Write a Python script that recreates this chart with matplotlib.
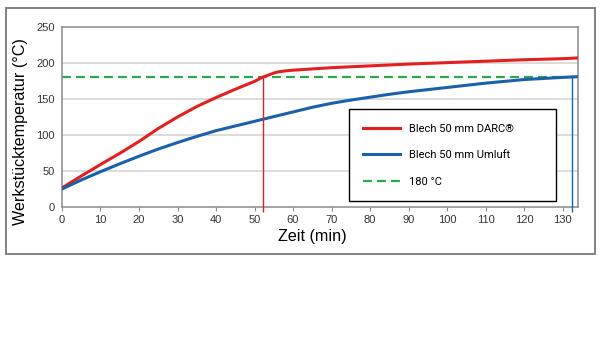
import matplotlib
matplotlib.use("Agg")
import matplotlib.pyplot as plt
from matplotlib.patches import Rectangle

# curve readings (minutes, °C)
t_darc = [0, 5, 10, 15, 20, 25, 30, 35, 40, 45, 50, 52, 54, 55, 56, 58, 60,
          70, 80, 90, 100, 110, 120, 130, 134]
temp_darc = [26.5, 43, 59, 74.5, 91, 109, 125, 139.5, 152, 163.5, 174.5, 180,
             184, 186, 187.5, 189, 190, 193.5, 196, 198.5, 200.5, 202.5,
             204.5, 206, 207]

t_umluft = [0, 5, 10, 15, 20, 25, 30, 35, 40, 45, 50, 55, 60, 65, 70, 75, 80,
            85, 90, 100, 110, 120, 130, 134]
temp_umluft = [25, 37.5, 49, 60, 70.5, 80.5, 89.5, 98, 106, 112.5, 119, 125.5,
               132, 138.5, 144, 148.5, 152.5, 156.5, 160, 166, 172, 177, 180,
               181]

target_temp = 180
t_reach_darc = 52.2
t_reach_umluft = 132.4

labels = ["Blech 50 mm DARC®", "Blech 50 mm Umluft", "180 °C"]
x_ticks = list(range(0, 131, 10))
y_ticks = [0, 50, 100, 150, 200, 250]

red = "#e3201f"
blue = "#1a60aa"
green = "#2aa84a"
gray = "#8a8a8a"

fig = plt.figure(figsize=(6, 3.37), dpi=100)
ax = fig.add_axes([0.1033, 0.3858, 0.86, 0.5341])

# outer frame
fig.patches.append(Rectangle((6 / 600, 1 - 254 / 337), 589 / 600, 246 / 337,
                             transform=fig.transFigure, fill=False,
                             edgecolor="#777777", linewidth=1.3))

for y in y_ticks[1:-1]:
    ax.axhline(y, color="#d2d2d2", lw=1.1, zorder=0)

ax.plot([0, 134], [target_temp, target_temp], color=green, lw=1.6,
        dashes=(4, 2.3), zorder=2, label=labels[2])
ax.plot(t_darc, temp_darc, color=red, lw=2.2, zorder=3, label=labels[0])
ax.plot(t_umluft, temp_umluft, color=blue, lw=2.2, zorder=3, label=labels[1])

ax.vlines(t_reach_darc, -7, target_temp, color=red, lw=1.0, clip_on=False, zorder=4)
ax.vlines(t_reach_umluft, -7, target_temp, color=blue, lw=1.0, clip_on=False, zorder=4)

ax.set_xlim(0, 134)
ax.set_ylim(0, 250)
ax.set_xticks(x_ticks)
ax.set_yticks(y_ticks)

for s in ax.spines.values():
    s.set_color(gray)
    s.set_linewidth(1.1)

ax.tick_params(axis="x", length=3, width=0.8, color=gray, pad=3,
               labelsize=8, labelcolor="#333333")
ax.tick_params(axis="y", length=0, pad=5, labelsize=8, labelcolor="#333333")
for lab in ax.get_xticklabels() + ax.get_yticklabels():
    lab.set_family("Liberation Sans")

ax.set_xlabel("Zeit (min)", fontsize=11.6, family="Liberation Sans")
ax.set_ylabel("Werkstücktemperatur (°C)", fontsize=11.6, family="Liberation Sans")
ax.xaxis.set_label_coords(0.4845, -0.125)
ax.yaxis.set_label_coords(-0.066, 0.417)

h, l = ax.get_legend_handles_labels()
order = [1, 2, 0]
leg = ax.legend([h[i] for i in order], [l[i] for i in order],
                loc="upper left", bbox_to_anchor=(0.556, 0.039, 0.401, 0.505),
                mode="expand", frameon=True, fancybox=False, framealpha=1,
                edgecolor="black", prop={"family": "Roboto", "size": 8},
                handlelength=3.3, handletextpad=0.8, labelspacing=1.5,
                borderpad=1.3, borderaxespad=0)
leg.get_frame().set_linewidth(1.0)

fig.savefig("out.png", dpi=100)
